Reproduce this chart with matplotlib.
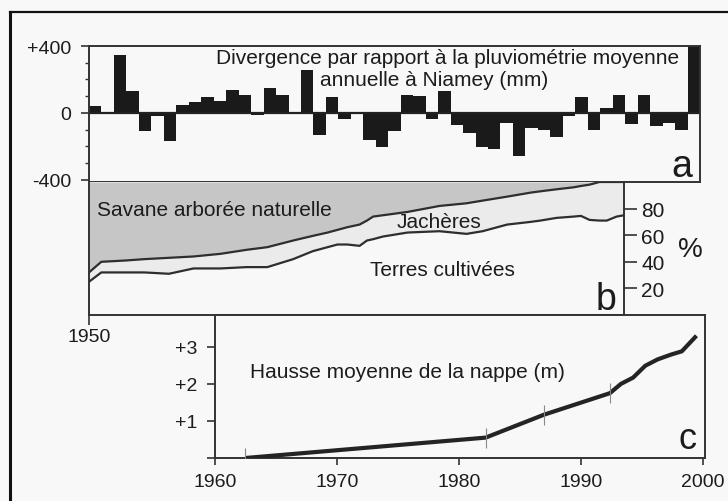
import matplotlib
matplotlib.use('Agg')
import matplotlib.pyplot as plt
from matplotlib.lines import Line2D
import numpy as np

# ── panel a: rainfall departure from the Niamey annual mean (mm) ──
rain_years = np.arange(1950, 1999)
rain_dev = [40, 0, 345, 130, -110, -20, -170, 50, 65, 93,
            73, 139, 105, -14, 149, 105, 0, 257, -129, 93,
            -36, 0, -164, -204, -105, 109, 103, -34, 129, -73,
            -119, -204, -212, -60, -257, -90, -100, -145, -15, 95,
            -100, 30, 107, -65, 107, -75, -60, -100, 400]

# ── panel b: land use (%) ──
land_years = [1950.0, 1951.0, 1953.0, 1954.5, 1956.5, 1958.5, 1960.7, 1962.8,
              1964.5, 1966.6, 1968.2, 1969.4, 1970.2, 1971.0, 1972.0, 1972.6,
              1973.1, 1973.9, 1975.9, 1978.5, 1980.7, 1982.0, 1984.0, 1985.9,
              1986.7, 1988.0, 1989.4, 1990.0, 1990.7, 1991.5, 1992.1, 1992.9, 1993.5]
cultivated = [25, 32, 32, 32, 31, 35, 35, 36,
              36, 42, 48, 51, 53, 53, 52, 56,
              57, 59, 62, 63, 61, 63, 68, 70,
              71, 73, 74, 74.5, 71.5, 71, 71, 74, 75]
cult_fallow = [32, 40, 41, 42, 43, 44, 46, 49,
               51, 56, 59.5, 62, 64, 66, 68, 71,
               74, 75, 77.5, 82, 84, 86, 89, 92,
               93, 94.5, 96, 97, 98, 100, 100, 100, 100]

# ── panel c: mean water-table rise (m) ──
nappe_years = [1962.5, 1982.2, 1987.0, 1992.4, 1993.3, 1994.3, 1995.3,
               1996.3, 1997.4, 1998.3, 1999.5]
nappe_rise = [0.0, 0.55, 1.17, 1.75, 2.0, 2.17, 2.49, 2.66, 2.79, 2.88, 3.3]
nappe_marks = [1962.5, 1982.2, 1987.0, 1992.4]

W, H = 728, 502
INK = '#1c1c1c'
BG = '#f8f8f8'
plt.rcParams['font.family'] = ['Liberation Sans', 'DejaVu Sans']
plt.rcParams['text.color'] = INK


def box(x0, y0, x1, y1):
    """pixel box (top-left origin) -> figure rect"""
    return [x0 / W, 1 - y1 / H, (x1 - x0) / W, (y1 - y0) / H]


def ftext(x, y, s, **kw):
    fig.text(x / W, 1 - y / H, s, **kw)


def style(ax):
    ax.set_facecolor(BG)
    for sp in ax.spines.values():
        sp.set_color('#333')
        sp.set_linewidth(1.4)
    ax.tick_params(colors='#333', labelcolor=INK, width=1.2)


fig = plt.figure(figsize=(W / 100, H / 100), dpi=100)
fig.patch.set_facecolor(BG)

# scan frame (left + top)
fig.add_artist(Line2D([10 / W, 10 / W], [0, 1 - 13 / H], color='#111', lw=2.2))
fig.add_artist(Line2D([10 / W, 1], [1 - 13 / H, 1 - 13 / H], color='#111', lw=1.6))

# ═════ panel a ═════
ax_a = fig.add_axes(box(89, 47, 700, 183))
style(ax_a)
ax_a.bar(rain_years, rain_dev, width=1, align='edge', color='#1a1a1a', lw=0)
ax_a.axhline(0, color='#222', lw=1.6)
ax_a.set_xlim(1950, 1999)
ax_a.set_ylim(-412, 400)
ax_a.set_xticks([])
ax_a.set_yticks([-400, 0, 400])
ax_a.set_yticklabels(['-400', '0', '+400'], fontsize=14)
ax_a.set_yticks(np.arange(-300, 400, 100), minor=True)
ax_a.tick_params(axis='y', which='major', direction='out', length=6, pad=7)
ax_a.tick_params(axis='y', which='minor', direction='out', length=3, width=1.0,
                 colors='#333')
ftext(448, 59, 'Divergence par rapport à la pluviométrie moyenne',
      fontsize=15, ha='center', va='center')
ftext(434, 80, 'annuelle à Niamey (mm)', fontsize=15, ha='center', va='center')
ftext(692, 177, 'a', fontsize=27, ha='right', va='baseline')

# ═════ panel b ═════
ax_b = fig.add_axes(box(89, 183, 624, 316))
style(ax_b)
ax_b.fill_between(land_years, cult_fallow, 100, color='#c6c6c6', lw=0, zorder=1)
ax_b.fill_between(land_years, cultivated, cult_fallow, color='#ebebeb', lw=0, zorder=1)
ax_b.plot(land_years, cult_fallow, color='#2e2e2e', lw=1.6, zorder=3)
ax_b.plot(land_years, cultivated, color='#2e2e2e', lw=1.6, zorder=3)
ax_b.set_xlim(1950, 1993.5)
ax_b.set_ylim(0, 100)
ax_b.spines['top'].set_visible(False)
ax_b.set_xticks([1950])
ax_b.set_xticklabels(['1950'], fontsize=14)
ax_b.tick_params(axis='x', direction='out', length=7, pad=2.5)
ax_b.yaxis.tick_right()
ax_b.set_yticks([20, 40, 60, 80])
ax_b.set_yticklabels(['20', '40', '60', '80'], fontsize=15)
ax_b.tick_params(axis='y', direction='out', length=9, pad=3.5)
ftext(97, 210, 'Savane arborée naturelle', fontsize=15, ha='left', va='center', zorder=5)
ftext(397, 223, 'Jachères', fontsize=15, ha='left', va='center', zorder=5)
ftext(370, 271, 'Terres cultivées', fontsize=15, ha='left', va='center', zorder=5)
ftext(616, 310, 'b', fontsize=27, ha='right', va='baseline')
ftext(690, 250, '%', fontsize=20, ha='center', va='center')

# ═════ panel c ═════
ax_c = fig.add_axes(box(215, 316, 705, 459))
style(ax_c)
ax_c.plot(nappe_years, nappe_rise, color='#242424', lw=3.0,
          solid_capstyle='butt', solid_joinstyle='round', zorder=3)
ax_c.plot(nappe_marks, [nappe_rise[nappe_years.index(y)] for y in nappe_marks],
          ls='none', marker='|', ms=15, mew=0.8, color='#888', zorder=4)
ax_c.set_xlim(1960, 2000.2)
ax_c.set_ylim(0, 3.86)
ax_c.set_xticks([1960, 1970, 1980, 1990, 2000])
ax_c.set_xticklabels(['1960', '1970', '1980', '1990', '2000'], fontsize=14)
ax_c.tick_params(axis='x', direction='out', length=5, pad=6)
ax_c.set_yticks([0, 1, 2, 3])
ax_c.set_yticklabels(['', '+1', '+2', '+3'], fontsize=14)
ax_c.tick_params(axis='y', direction='out', length=6, pad=7)
ftext(250, 372, 'Hausse moyenne de la nappe (m)', fontsize=15, ha='left', va='center')
ftext(696, 449, 'c', fontsize=26, ha='right', va='baseline')

fig.savefig('out.png', dpi=100, facecolor=BG)
